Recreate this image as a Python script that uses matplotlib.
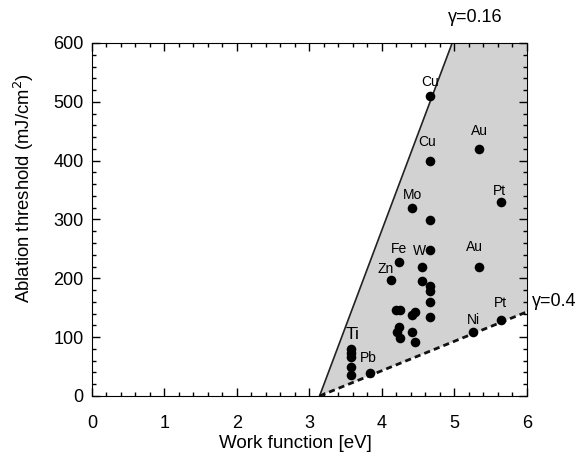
import numpy as np
import matplotlib.pyplot as plt
from matplotlib.ticker import MultipleLocator

plt.rcParams['font.family'] = ['Liberation Sans', 'DejaVu Sans']

# measured points (work function eV, threshold mJ/cm2)
wf = [4.67, 4.67, 5.34, 5.64, 4.42, 4.67, 4.67, 4.24, 4.56, 5.34,
      4.12, 4.56, 4.67, 4.67, 4.67, 4.67, 4.20, 4.25, 4.42, 4.46,
      5.64, 5.26, 4.24, 4.21, 4.25, 4.42, 4.46,
      3.58, 3.58, 3.58, 3.58, 3.58, 3.84]
thr = [510, 400, 420, 329, 319, 299, 248, 228, 219, 219,
       198, 195, 187, 178, 159, 135, 147, 147, 138, 143,
       129, 108, 118, 109, 99, 108, 91,
       80, 73, 67, 49, 35, 39]

# element labels: name and index of the point they belong to
label_names = ['Cu', 'Cu', 'Au', 'Pt', 'Mo', 'Fe', 'W', 'Zn', 'Au', 'Pt', 'Ni', 'Ti', 'Pb']
label_idx = [0, 1, 2, 3, 4, 7, 8, 10, 9, 20, 21, 27, 32]

# gamma lines
g016_x = [3.14, 4.97]
g016_y = [0, 600]
g04_x = [3.14, 6.0]
g04_y = [0, 143]

fig = plt.figure(figsize=(5.86, 4.55), dpi=100)
ax = fig.add_axes([0.157, 0.1297, 0.742, 0.7758])

# shaded region between both lines
poly_x = [g016_x[0], g016_x[1], 6.0, g04_x[1]]
poly_y = [g016_y[0], g016_y[1], 600, g04_y[1]]
ax.fill(poly_x, poly_y, color='#d2d2d2', lw=0, zorder=1)

ax.plot(g016_x, g016_y, color='#222222', lw=1.2, zorder=2)
ax.plot(g04_x, g04_y, color='#111111', lw=2, ls=(0, (2.2, 1.5)), zorder=2)

ax.scatter(wf, thr, s=48, color='black', zorder=3, lw=0)

offsets = [(0, 14), (-3, 19), (0, 18), (-1, 11), (0, 13), (0, 13), (-3, 16),
           (-5, 11), (-5, 20), (0, 17), (0, 12), (1, 14), (-2, 15)]
for name, i, (dx, dy) in zip(label_names, label_idx, offsets):
    fs = 12.5 if name == 'Ti' else 10
    ax.annotate(name, (wf[i], thr[i]), xytext=(dx, dy), textcoords='offset pixels',
                ha='center', va='center', fontsize=fs, zorder=4)

ax.text(5.29, 643, u'\u03b3=0.16', fontsize=13, ha='center', va='center', clip_on=False)
ax.text(6.07, 160, u'\u03b3=0.4', fontsize=13, ha='left', va='center', clip_on=False)

ax.set_xlim(0, 6)
ax.set_ylim(0, 600)
ax.xaxis.set_major_locator(MultipleLocator(1))
ax.xaxis.set_minor_locator(MultipleLocator(0.2))
ax.yaxis.set_major_locator(MultipleLocator(100))
ax.yaxis.set_minor_locator(MultipleLocator(20))
ax.tick_params(which='both', direction='in', top=True, right=True, labelsize=13)
ax.tick_params(which='major', length=6, width=1)
ax.tick_params(which='minor', length=3, width=1)
ax.tick_params(axis='x', pad=14)
ax.tick_params(axis='y', pad=6)
ax.set_xlabel('Work function [eV]', fontsize=13.5)
ax.set_ylabel('Ablation threshold (mJ/cm$^2$)', fontsize=13.3)
ax.xaxis.set_label_coords(0.469, -0.11)
ax.yaxis.set_label_coords(-0.128, 0.59)

plt.savefig('out.png', dpi=100)
